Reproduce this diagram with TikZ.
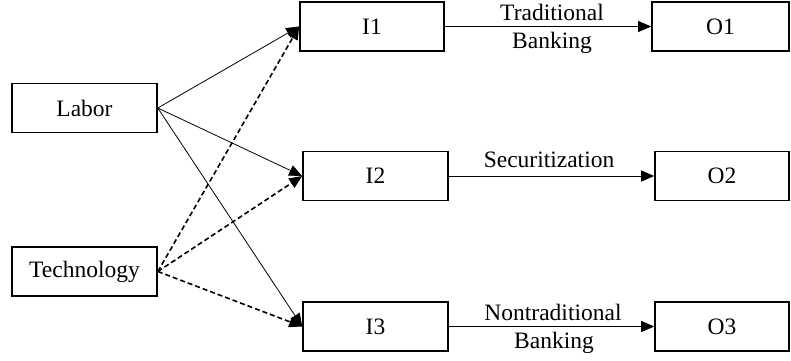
\documentclass[tikz,border=0pt]{standalone}
\usepackage{fontspec}
\setmainfont{Liberation Serif}
\usetikzlibrary{arrows.meta}
\begin{document}
\begin{tikzpicture}[x=1pt,y=-1pt,
  box/.style={draw,line width=1.6pt,minimum width=#1,minimum height=49pt,inner sep=0pt,font=\fontsize{23.5}{26}\selectfont},
  box/.default=145pt,
  lbl/.style={font=\fontsize{23.5}{26}\selectfont,inner sep=0pt,anchor=base},
  solidarr/.style={line width=0.8pt,-{Triangle[length=13pt,width=11pt]}},
  dasharr/.style={line width=1.6pt,dash pattern=on 5pt off 3pt,-{Triangle[length=13pt,width=11pt]}},
  outarr/.style={line width=0.8pt,-{Triangle[length=13pt,width=11pt]}}]
\useasboundingbox (0,0) rectangle (791,360);
\node[box] (labor) at (84.5,108) {Labor};
\node[box] (tech) at (84.5,271.5) {Technology};
\node[box=144pt] (i1) at (372,26.5) {I1};
\node[box] (i2) at (375.5,176) {I2};
\node[box] (i3) at (375.5,326.5) {I3};
\node[box=137pt] (o1) at (720.5,26.5) {O1};
\node[box=134pt] (o2) at (722,176) {O2};
\node[box=134pt] (o3) at (722,326.5) {O3};
\draw[solidarr] (labor.east) -- (i1.west);
\draw[solidarr] (labor.east) -- (i2.west);
\draw[solidarr] (labor.east) -- (i3.west);
\draw[dasharr] (tech.east) -- (i1.west);
\draw[dasharr] (tech.east) -- (i2.west);
\draw[dasharr] (tech.east) -- (i3.west);
\draw[outarr] (i1.east) -- (o1.west);
\draw[outarr] (i2.east) -- (o2.west);
\draw[outarr] (i3.east) -- (o3.west);
\node[lbl] (t1) at (552,20) {Traditional};
\node[lbl] (t1b) at (552,48) {Banking};
\node[lbl] (t2) at (549,167) {Securitization};
\node[lbl] (t3) at (553,320) {Nontraditional};
\node[lbl] (t3b) at (554,348) {Banking};
\end{tikzpicture}
\end{document}
